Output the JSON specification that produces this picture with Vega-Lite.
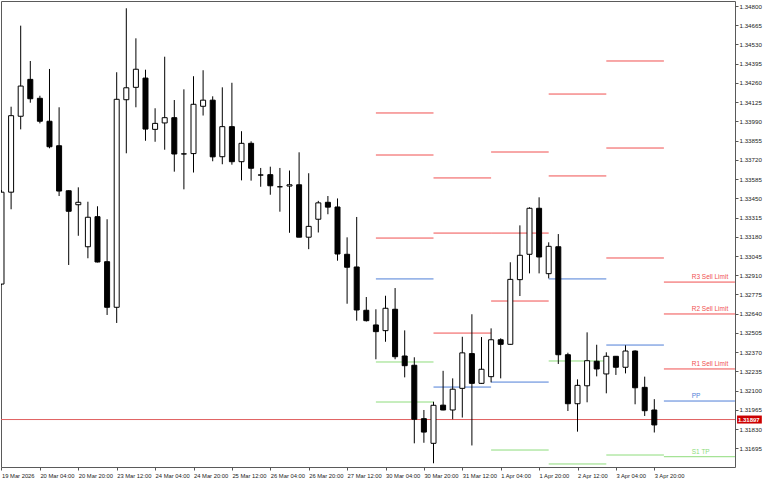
{
  "$schema": "https://vega.github.io/schema/vega-lite/v6.json",
  "width": 734,
  "height": 466,
  "autosize": {"type": "none"},
  "padding": {"left": 1, "top": 1, "right": 33, "bottom": 13},
  "background": "white",
  "config": {
    "view": {"stroke": "#5a5a5a", "strokeWidth": 1},
    "scale": {"continuousPadding": 0},
    "axis": {"labelFont": "Liberation Sans", "labelFontSize": 5.8, "labelColor": "#222222", "tickColor": "#555555", "domain": false, "grid": false, "title": null, "labelOverlap": false, "labelBound": false, "labelFlush": false, "labelSeparation": 0},
    "axisY": {"labelOverlap": false, "labelFontSize": 6.2}
  },
  "datasets": {
    "candles": [
      {"i": 0, "t": "19 Mar 12:00", "o": 1.32848, "h": 1.33508, "l": 1.32841, "c": 1.33493},
      {"i": 1, "t": "19 Mar 16:00", "o": 1.33493, "h": 1.34093, "l": 1.33373, "c": 1.34030},
      {"i": 2, "t": "19 Mar 20:00", "o": 1.34026, "h": 1.34662, "l": 1.33934, "c": 1.34238},
      {"i": 3, "t": "20 Mar 00:00", "o": 1.34285, "h": 1.34414, "l": 1.34121, "c": 1.34149},
      {"i": 4, "t": "20 Mar 04:00", "o": 1.34152, "h": 1.34170, "l": 1.33976, "c": 1.33991},
      {"i": 5, "t": "20 Mar 08:00", "o": 1.33991, "h": 1.34358, "l": 1.33801, "c": 1.33812},
      {"i": 6, "t": "20 Mar 12:00", "o": 1.33819, "h": 1.34089, "l": 1.33466, "c": 1.33501},
      {"i": 7, "t": "20 Mar 16:00", "o": 1.33503, "h": 1.33506, "l": 1.32982, "c": 1.33359},
      {"i": 8, "t": "20 Mar 20:00", "o": 1.33405, "h": 1.33527, "l": 1.33187, "c": 1.33422},
      {"i": 9, "t": "23 Mar 00:00", "o": 1.33110, "h": 1.33426, "l": 1.33029, "c": 1.33317},
      {"i": 10, "t": "23 Mar 04:00", "o": 1.33321, "h": 1.33394, "l": 1.33000, "c": 1.33003},
      {"i": 11, "t": "23 Mar 08:00", "o": 1.33005, "h": 1.33303, "l": 1.32631, "c": 1.32685},
      {"i": 12, "t": "23 Mar 12:00", "o": 1.32685, "h": 1.34335, "l": 1.32575, "c": 1.34145},
      {"i": 13, "t": "23 Mar 16:00", "o": 1.34142, "h": 1.34784, "l": 1.33766, "c": 1.34226},
      {"i": 14, "t": "23 Mar 20:00", "o": 1.34229, "h": 1.34573, "l": 1.34089, "c": 1.34356},
      {"i": 15, "t": "24 Mar 00:00", "o": 1.34294, "h": 1.34353, "l": 1.33854, "c": 1.33936},
      {"i": 16, "t": "24 Mar 04:00", "o": 1.33934, "h": 1.34082, "l": 1.33847, "c": 1.33976},
      {"i": 17, "t": "24 Mar 08:00", "o": 1.33979, "h": 1.34444, "l": 1.33791, "c": 1.34016},
      {"i": 18, "t": "24 Mar 12:00", "o": 1.34016, "h": 1.34140, "l": 1.33637, "c": 1.33761},
      {"i": 19, "t": "24 Mar 16:00", "o": 1.33762, "h": 1.34215, "l": 1.33513, "c": 1.33761},
      {"i": 20, "t": "24 Mar 20:00", "o": 1.33764, "h": 1.34307, "l": 1.33631, "c": 1.34110},
      {"i": 21, "t": "25 Mar 00:00", "o": 1.34096, "h": 1.34349, "l": 1.34031, "c": 1.34139},
      {"i": 22, "t": "25 Mar 04:00", "o": 1.34139, "h": 1.34166, "l": 1.33710, "c": 1.33741},
      {"i": 23, "t": "25 Mar 08:00", "o": 1.33742, "h": 1.34229, "l": 1.33689, "c": 1.33953},
      {"i": 24, "t": "25 Mar 12:00", "o": 1.33953, "h": 1.34261, "l": 1.33686, "c": 1.33707},
      {"i": 25, "t": "25 Mar 16:00", "o": 1.33707, "h": 1.33921, "l": 1.33576, "c": 1.33836},
      {"i": 26, "t": "25 Mar 20:00", "o": 1.33836, "h": 1.33850, "l": 1.33574, "c": 1.33661},
      {"i": 27, "t": "26 Mar 00:00", "o": 1.33614, "h": 1.33663, "l": 1.33531, "c": 1.33613},
      {"i": 28, "t": "26 Mar 04:00", "o": 1.33616, "h": 1.33672, "l": 1.33475, "c": 1.33538},
      {"i": 29, "t": "26 Mar 08:00", "o": 1.33531, "h": 1.33663, "l": 1.33356, "c": 1.33531},
      {"i": 30, "t": "26 Mar 12:00", "o": 1.33536, "h": 1.33645, "l": 1.33208, "c": 1.33545},
      {"i": 31, "t": "26 Mar 16:00", "o": 1.33545, "h": 1.33773, "l": 1.33177, "c": 1.33177},
      {"i": 32, "t": "26 Mar 20:00", "o": 1.33177, "h": 1.33626, "l": 1.33093, "c": 1.33253},
      {"i": 33, "t": "27 Mar 00:00", "o": 1.33303, "h": 1.33432, "l": 1.33210, "c": 1.33418},
      {"i": 34, "t": "27 Mar 04:00", "o": 1.33422, "h": 1.33466, "l": 1.33338, "c": 1.33388},
      {"i": 35, "t": "27 Mar 08:00", "o": 1.33389, "h": 1.33449, "l": 1.33012, "c": 1.33059},
      {"i": 36, "t": "27 Mar 12:00", "o": 1.33057, "h": 1.33176, "l": 1.32710, "c": 1.32966},
      {"i": 37, "t": "27 Mar 16:00", "o": 1.32968, "h": 1.33319, "l": 1.32591, "c": 1.32666},
      {"i": 38, "t": "27 Mar 20:00", "o": 1.32664, "h": 1.32757, "l": 1.32585, "c": 1.32591},
      {"i": 39, "t": "30 Mar 00:00", "o": 1.32561, "h": 1.32671, "l": 1.32320, "c": 1.32514},
      {"i": 40, "t": "30 Mar 04:00", "o": 1.32521, "h": 1.32766, "l": 1.32443, "c": 1.32678},
      {"i": 41, "t": "30 Mar 08:00", "o": 1.32671, "h": 1.32820, "l": 1.32320, "c": 1.32338},
      {"i": 42, "t": "30 Mar 12:00", "o": 1.32343, "h": 1.32523, "l": 1.32193, "c": 1.32275},
      {"i": 43, "t": "30 Mar 16:00", "o": 1.32278, "h": 1.32334, "l": 1.31730, "c": 1.31899},
      {"i": 44, "t": "30 Mar 20:00", "o": 1.31903, "h": 1.31964, "l": 1.31734, "c": 1.31809},
      {"i": 45, "t": "31 Mar 00:00", "o": 1.31730, "h": 1.32022, "l": 1.31590, "c": 1.31997},
      {"i": 46, "t": "31 Mar 04:00", "o": 1.31998, "h": 1.32239, "l": 1.31962, "c": 1.31964},
      {"i": 47, "t": "31 Mar 08:00", "o": 1.31964, "h": 1.32186, "l": 1.31899, "c": 1.32110},
      {"i": 48, "t": "31 Mar 12:00", "o": 1.32116, "h": 1.32478, "l": 1.31911, "c": 1.32365},
      {"i": 49, "t": "31 Mar 16:00", "o": 1.32360, "h": 1.32636, "l": 1.31715, "c": 1.32151},
      {"i": 50, "t": "31 Mar 20:00", "o": 1.32151, "h": 1.32476, "l": 1.32147, "c": 1.32250},
      {"i": 51, "t": "1 Apr 00:00", "o": 1.32198, "h": 1.32537, "l": 1.32158, "c": 1.32457},
      {"i": 52, "t": "1 Apr 04:00", "o": 1.32457, "h": 1.32467, "l": 1.32186, "c": 1.32425},
      {"i": 53, "t": "1 Apr 08:00", "o": 1.32425, "h": 1.33001, "l": 1.32422, "c": 1.32881},
      {"i": 54, "t": "1 Apr 12:00", "o": 1.32879, "h": 1.33260, "l": 1.32764, "c": 1.33050},
      {"i": 55, "t": "1 Apr 16:00", "o": 1.33057, "h": 1.33387, "l": 1.32923, "c": 1.33380},
      {"i": 56, "t": "1 Apr 20:00", "o": 1.33380, "h": 1.33457, "l": 1.32923, "c": 1.33038},
      {"i": 57, "t": "2 Apr 00:00", "o": 1.32921, "h": 1.33141, "l": 1.32888, "c": 1.33113},
      {"i": 58, "t": "2 Apr 04:00", "o": 1.33110, "h": 1.33199, "l": 1.32287, "c": 1.32352},
      {"i": 59, "t": "2 Apr 08:00", "o": 1.32352, "h": 1.32366, "l": 1.31957, "c": 1.32008},
      {"i": 60, "t": "2 Apr 12:00", "o": 1.32008, "h": 1.32179, "l": 1.31812, "c": 1.32137},
      {"i": 61, "t": "2 Apr 16:00", "o": 1.32134, "h": 1.32509, "l": 1.32018, "c": 1.32310},
      {"i": 62, "t": "2 Apr 20:00", "o": 1.32306, "h": 1.32422, "l": 1.32200, "c": 1.32252},
      {"i": 63, "t": "3 Apr 00:00", "o": 1.32217, "h": 1.32369, "l": 1.32081, "c": 1.32341},
      {"i": 64, "t": "3 Apr 04:00", "o": 1.32341, "h": 1.32343, "l": 1.32210, "c": 1.32264},
      {"i": 65, "t": "3 Apr 08:00", "o": 1.32264, "h": 1.32418, "l": 1.32221, "c": 1.32378},
      {"i": 66, "t": "3 Apr 12:00", "o": 1.32378, "h": 1.32383, "l": 1.32004, "c": 1.32120},
      {"i": 67, "t": "3 Apr 16:00", "o": 1.32123, "h": 1.32198, "l": 1.31922, "c": 1.31959},
      {"i": 68, "t": "3 Apr 20:00", "o": 1.31964, "h": 1.32040, "l": 1.31806, "c": 1.31859}
    ],
    "levels": [
      {"day": "30 Mar", "name": "R3", "kind": "R", "p": 1.34049, "i0": 39, "i1": 45},
      {"day": "30 Mar", "name": "R2", "kind": "R", "p": 1.33754, "i0": 39, "i1": 45},
      {"day": "30 Mar", "name": "R1", "kind": "R", "p": 1.33171, "i0": 39, "i1": 45},
      {"day": "30 Mar", "name": "PP", "kind": "PP", "p": 1.32884, "i0": 39, "i1": 45},
      {"day": "30 Mar", "name": "S1", "kind": "S", "p": 1.32301, "i0": 39, "i1": 45},
      {"day": "30 Mar", "name": "S2", "kind": "S", "p": 1.32020, "i0": 39, "i1": 45},
      {"day": "31 Mar", "name": "R3", "kind": "R", "p": 1.33593, "i0": 45, "i1": 51},
      {"day": "31 Mar", "name": "R2", "kind": "R", "p": 1.33206, "i0": 45, "i1": 51},
      {"day": "31 Mar", "name": "R1", "kind": "R", "p": 1.32504, "i0": 45, "i1": 51},
      {"day": "31 Mar", "name": "PP", "kind": "PP", "p": 1.32125, "i0": 45, "i1": 51},
      {"day": "1 Apr", "name": "R3", "kind": "R", "p": 1.33775, "i0": 51, "i1": 57},
      {"day": "1 Apr", "name": "R2", "kind": "R", "p": 1.33206, "i0": 51, "i1": 57},
      {"day": "1 Apr", "name": "R1", "kind": "R", "p": 1.32729, "i0": 51, "i1": 57},
      {"day": "1 Apr", "name": "PP", "kind": "PP", "p": 1.32160, "i0": 51, "i1": 57},
      {"day": "1 Apr", "name": "S1", "kind": "S", "p": 1.31683, "i0": 51, "i1": 57},
      {"day": "2 Apr", "name": "R2", "kind": "R", "p": 1.34182, "i0": 57, "i1": 63},
      {"day": "2 Apr", "name": "R1", "kind": "R", "p": 1.33607, "i0": 57, "i1": 63},
      {"day": "2 Apr", "name": "PP", "kind": "PP", "p": 1.32884, "i0": 57, "i1": 63},
      {"day": "2 Apr", "name": "S1", "kind": "S", "p": 1.32308, "i0": 57, "i1": 63},
      {"day": "2 Apr", "name": "S2", "kind": "S", "p": 1.31585, "i0": 57, "i1": 63},
      {"day": "3 Apr", "name": "R3", "kind": "R", "p": 1.34414, "i0": 63, "i1": 69},
      {"day": "3 Apr", "name": "R2", "kind": "R", "p": 1.33803, "i0": 63, "i1": 69},
      {"day": "3 Apr", "name": "R1", "kind": "R", "p": 1.33031, "i0": 63, "i1": 69},
      {"day": "3 Apr", "name": "PP", "kind": "PP", "p": 1.32420, "i0": 63, "i1": 69},
      {"day": "3 Apr", "name": "S1", "kind": "S", "p": 1.31648, "i0": 63, "i1": 69},
      {"day": "6 Apr", "name": "R3", "kind": "R", "p": 1.32862, "i0": 69, "i1": 76.4, "label": "R3 Sell Limit"},
      {"day": "6 Apr", "name": "R2", "kind": "R", "p": 1.32638, "i0": 69, "i1": 76.4, "label": "R2 Sell Limit"},
      {"day": "6 Apr", "name": "R1", "kind": "R", "p": 1.32252, "i0": 69, "i1": 76.4, "label": "R1 Sell Limit"},
      {"day": "6 Apr", "name": "PP", "kind": "PP", "p": 1.32027, "i0": 69, "i1": 76.4, "label": "PP"},
      {"day": "6 Apr", "name": "S1", "kind": "S", "p": 1.31636, "i0": 69, "i1": 76.4, "label": "S1 TP"}
    ],
    "bid": [{"price": 1.31897, "text": "1.31897"}]
  },
  "layer": [
    {
      "data": {"name": "levels"},
      "mark": {"type": "rule", "strokeWidth": 1, "clip": true},
      "encoding": {
        "x": {"field": "i0", "type": "quantitative", "scale": {"domain": [-0.052, 76.406], "nice": false, "zero": false, "padding": 0},
          "axis": {"values": [0,4,8,12,16,20,24,28,32,36,40,44,48,52,56,60,64,68], "tickCount": 40,
            "labelExpr": "['19 Mar 2026','20 Mar 04:00','20 Mar 20:00','23 Mar 12:00','24 Mar 04:00','24 Mar 20:00','25 Mar 12:00','26 Mar 04:00','26 Mar 20:00','27 Mar 12:00','30 Mar 04:00','30 Mar 20:00','31 Mar 12:00','1 Apr 04:00','1 Apr 20:00','2 Apr 12:00','3 Apr 04:00','3 Apr 20:00'][round(datum.value/4)]",
            "labelAlign": "left", "labelBaseline": "top", "labelPadding": 2, "tickSize": 3, "labelOverlap": false}},
        "x2": {"field": "i1"},
        "y": {"field": "p", "type": "quantitative", "scale": {"domain": [1.315638, 1.348351], "nice": false, "zero": false, "padding": 0},
          "axis": {"orient": "right", "tickCount": 40, "values": [1.31695,1.3183,1.31965,1.321,1.32235,1.3237,1.32505,1.3264,1.32775,1.3291,1.33045,1.3318,1.33315,1.3345,1.33585,1.3372,1.33855,1.3399,1.34125,1.3426,1.34395,1.3453,1.34665,1.348],
            "format": ".5f", "tickSize": 3, "labelPadding": 1, "labelOverlap": false, "labelSeparation": 0, "labelFontSize": 6.2}},
        "color": {"field": "kind", "type": "nominal", "scale": {"domain": ["R", "PP", "S"], "range": ["#f05050", "#4f7fd7", "#8edc7c"]}, "legend": null}
      }
    },
    {
      "data": {"name": "bid"},
      "mark": {"type": "rule", "color": "#e06060", "strokeWidth": 1},
      "encoding": {
        "y": {"field": "price", "type": "quantitative", "scale": {"domain": [1.315638, 1.348351], "nice": false, "zero": false, "padding": 0}}
      }
    },
    {
      "data": {"name": "candles"},
      "mark": {"type": "rule", "color": "#000000", "strokeWidth": 1, "clip": true},
      "encoding": {
        "x": {"field": "i", "type": "quantitative", "scale": {"domain": [-0.052, 76.406], "nice": false, "zero": false, "padding": 0}},
        "y": {"field": "l", "type": "quantitative", "scale": {"domain": [1.315638, 1.348351], "nice": false, "zero": false, "padding": 0}},
        "y2": {"field": "h"}
      }
    },
    {
      "data": {"name": "candles"},
      "mark": {"type": "bar", "width": 5, "stroke": "#000000", "strokeWidth": 1, "clip": true},
      "encoding": {
        "x": {"field": "i", "type": "quantitative", "scale": {"domain": [-0.052, 76.406], "nice": false, "zero": false, "padding": 0}},
        "y": {"field": "o", "type": "quantitative", "scale": {"domain": [1.315638, 1.348351], "nice": false, "zero": false, "padding": 0}},
        "y2": {"field": "c"},
        "fill": {"condition": {"test": "datum.c >= datum.o", "value": "#ffffff"}, "value": "#000000"}
      }
    },
    {
      "data": {"name": "levels"},
      "transform": [{"filter": "isValid(datum.label)"}],
      "mark": {"type": "text", "align": "left", "baseline": "bottom", "dy": -2, "font": "Liberation Sans", "fontSize": 6.5},
      "encoding": {
        "x": {"datum": 71.9, "type": "quantitative", "scale": {"domain": [-0.052, 76.406], "nice": false, "zero": false, "padding": 0}},
        "y": {"field": "p", "type": "quantitative", "scale": {"domain": [1.315638, 1.348351], "nice": false, "zero": false, "padding": 0}},
        "text": {"field": "label"},
        "color": {"field": "kind", "type": "nominal", "scale": {"domain": ["R", "PP", "S"], "range": ["#f05050", "#4f7fd7", "#8edc7c"]}, "legend": null}
      }
    },
    {
      "data": {"name": "bid"},
      "mark": {"type": "bar", "height": 8, "color": "#cc0000"},
      "encoding": {
        "x": {"datum": 76.62, "type": "quantitative", "scale": {"domain": [-0.052, 76.406], "nice": false, "zero": false, "padding": 0}},
        "x2": {"datum": 79.2},
        "y": {"field": "price", "type": "quantitative", "scale": {"domain": [1.315638, 1.348351], "nice": false, "zero": false, "padding": 0}}
      }
    },
    {
      "data": {"name": "bid"},
      "mark": {"type": "text", "align": "left", "baseline": "middle", "color": "#ffffff", "font": "Liberation Sans", "fontSize": 6, "fontWeight": "bold"},
      "encoding": {
        "x": {"datum": 76.72, "type": "quantitative", "scale": {"domain": [-0.052, 76.406], "nice": false, "zero": false, "padding": 0}},
        "y": {"field": "price", "type": "quantitative", "scale": {"domain": [1.315638, 1.348351], "nice": false, "zero": false, "padding": 0}},
        "text": {"field": "text"}
      }
    }
  ]
}
